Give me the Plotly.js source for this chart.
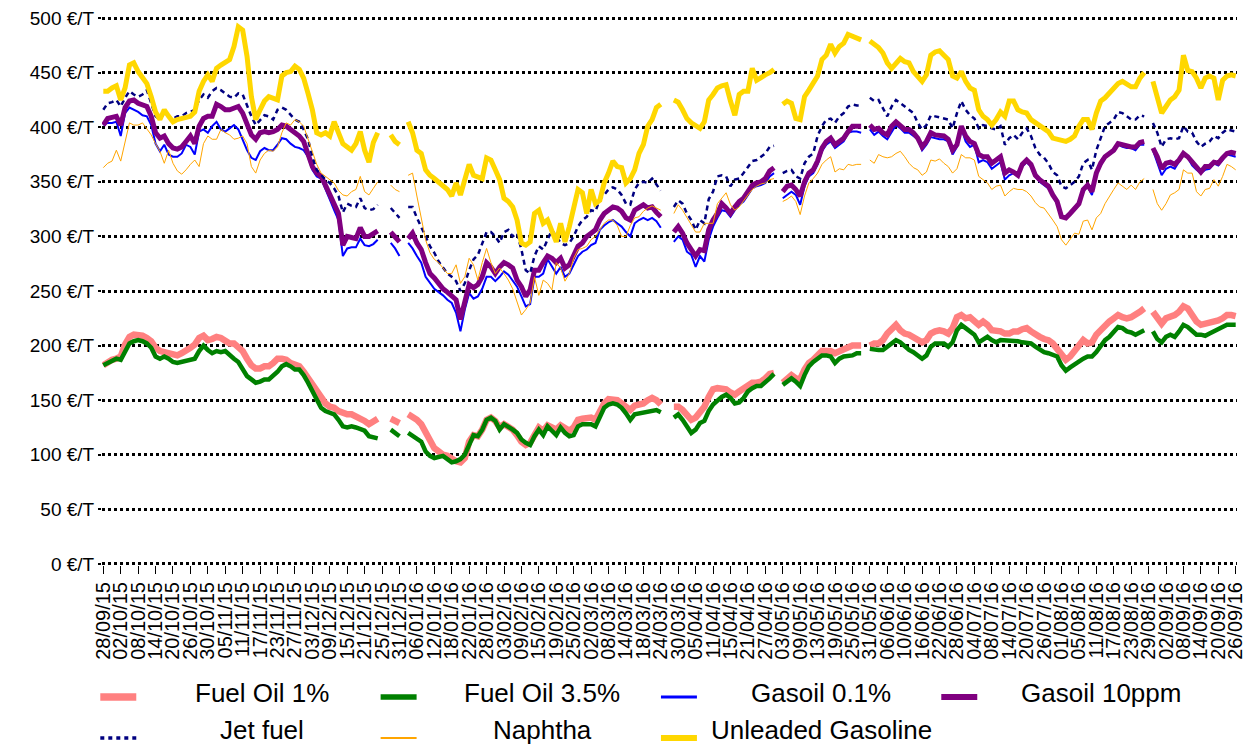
<!DOCTYPE html>
<html>
<head>
<meta charset="utf-8">
<script src="https://cdn.plot.ly/plotly-3.0.1.min.js"></script>
<style>
  html, body { margin: 0; padding: 0; background: #ffffff; }
  #chart { width: 1249px; height: 746px; }
</style>
</head>
<body>
<div id="chart"></div>
<script>
// ---------- categories: every weekday from 28/09/15 to 26/09/16 ----------
const dates = [];
(function () {
  let t = Date.UTC(2015, 8, 28);
  const end = Date.UTC(2016, 8, 26);
  while (t <= end) {
    const d = new Date(t);
    const wd = d.getUTCDay();
    if (wd !== 0 && wd !== 6) {
      const dd = String(d.getUTCDate()).padStart(2, '0');
      const mm = String(d.getUTCMonth() + 1).padStart(2, '0');
      const yy = String(d.getUTCFullYear()).slice(2);
      dates.push(dd + '/' + mm + '/' + yy);
    }
    t += 86400000;
  }
})();
const tickLabels = dates.filter((d, i) => i % 4 === 0);

// ---------- series values (€/T), null = no quotation ----------
const fuelOil1 = [
182,185,187,188,190,201,208,210,210,209,
207,204,198,195,194,193,191,191,193,195,
198,201,207,209,205,206,208,207,204,202,
202,199,195,188,182,179,179,181,181,184,
188,188,187,184,182,181,176,170,164,160,
152,147,144,143,140,138,137,137,135,134,
131,128,131,133,null,null,133,131,129,null,
137,135,132,128,120,112,106,103,100,99,
96,94,93,97,112,118,117,123,132,134,
131,125,128,126,123,118,112,109,111,118,
125,122,127,125,123,127,125,122,125,132,
133,133,134,132,141,147,151,150,150,147,
143,141,145,146,147,150,152,150,146,null,
null,144,144,141,137,132,134,138,144,153,
160,161,161,160,157,155,158,161,164,166,
166,167,170,174,175,null,166,169,173,170,
169,178,184,187,191,195,195,195,193,195,
196,198,200,200,200,null,200,202,202,205,
211,216,219,214,211,210,208,205,203,205,
211,213,214,213,211,216,226,228,225,226,
222,219,222,219,214,214,213,211,211,213,
213,215,216,213,210,208,206,205,202,197,
193,187,190,194,200,205,202,203,210,214,
219,222,225,228,226,225,226,228,231,234,
null,231,225,220,225,226,228,231,236,234,
228,222,219,220,220,222,223,225,228,228,
227];

const fuelOil35 = [
182,184,186,188,187,195,202,204,205,204,
202,198,190,188,190,188,185,184,185,187,
188,188,195,200,196,193,195,194,195,191,
188,185,179,172,169,166,167,169,169,172,
176,181,183,181,178,178,173,166,158,150,
143,140,139,137,132,126,125,126,125,124,
122,117,116,115,null,null,123,120,117,null,
120,117,115,112,103,99,97,98,99,96,
93,94,96,100,110,118,117,123,132,134,
131,123,128,126,123,120,114,111,109,117,
123,118,126,122,118,125,120,117,118,126,
128,128,128,126,135,143,146,147,146,143,
138,132,137,138,138,140,141,141,139,null,
null,134,137,132,125,120,123,129,131,140,
146,150,153,155,152,147,148,152,158,161,
163,163,166,170,174,null,164,167,170,167,
163,173,181,185,188,191,191,190,184,188,
190,190,191,193,193,null,197,196,196,196,
199,202,205,203,199,196,194,191,188,191,
199,202,202,202,199,203,214,219,216,213,
210,203,206,208,205,203,205,205,205,205,
204,203,202,202,199,196,194,193,192,190,
182,177,180,183,185,188,190,190,194,200,
205,208,213,217,216,213,212,210,212,214,
null,213,206,203,208,210,208,213,219,217,
213,210,210,209,211,213,214,217,219,219,
219];

const gasoil01 = [
402,404,404,405,392,413,418,416,414,411,
410,402,385,378,384,375,373,373,376,384,
382,375,396,398,395,401,405,398,396,399,
402,398,389,379,372,370,378,381,379,379,
384,390,389,385,382,381,379,373,361,355,
353,344,334,324,315,282,289,290,290,298,
292,291,293,297,null,null,294,289,282,null,
294,289,282,276,263,257,252,249,246,242,
239,230,213,233,248,243,245,252,263,263,
259,263,268,265,260,254,245,236,238,263,
263,266,279,272,266,272,263,266,274,282,
286,288,292,294,306,310,313,315,312,309,
304,300,312,315,317,315,317,314,308,null,
null,295,300,297,286,283,272,282,277,297,
309,317,324,323,318,324,329,332,338,344,
346,347,349,355,358,null,335,338,341,338,
329,346,355,358,366,378,384,387,381,384,
387,395,396,396,395,null,398,393,396,392,
389,396,402,399,395,395,392,389,379,384,
391,390,389,389,387,375,382,399,387,382,
384,368,370,368,362,365,368,352,356,358,
355,364,368,364,355,350,347,344,337,330,
318,317,321,324,329,341,346,338,356,365,
372,375,378,384,382,381,381,379,384,384,
null,379,368,356,362,364,362,368,375,372,
365,361,358,361,362,367,365,370,375,374,
373];

const gasoil10ppm = [
402,408,409,410,402,418,424,425,422,421,
419,410,395,390,392,385,381,380,382,387,
392,385,401,408,410,410,421,419,416,416,
418,419,413,404,393,389,395,396,395,396,
398,402,401,398,395,392,387,376,364,358,
355,347,339,330,321,292,300,299,298,308,
300,300,302,305,null,null,304,300,295,null,
298,303,294,288,276,266,262,257,252,249,
245,242,224,239,256,253,256,263,276,272,
266,272,276,274,271,260,254,245,251,269,
269,276,282,280,276,280,271,274,282,291,
294,300,303,306,315,321,324,327,326,323,
317,315,324,327,329,326,327,322,318,null,
null,304,309,303,294,288,282,288,287,306,
315,321,330,326,321,327,332,335,341,347,
349,350,353,360,363,null,341,346,347,343,
337,350,358,361,369,381,387,390,384,387,
390,396,401,401,401,null,402,398,399,395,
393,401,405,402,398,398,395,390,382,387,
395,393,392,392,389,379,384,401,392,387,
385,375,373,373,367,370,373,358,361,359,
356,366,370,366,356,352,349,346,338,332,
318,317,321,326,330,343,347,341,358,367,
373,376,379,385,384,382,382,382,386,387,
null,381,373,362,367,368,366,370,376,373,
368,364,359,364,364,368,367,372,376,377,
376];

const jetFuel = [
416,422,423,425,419,427,433,430,428,430,
434,421,410,407,413,410,408,410,410,413,
414,416,425,430,427,433,436,434,431,428,
427,431,430,419,410,402,407,411,410,407,
416,418,416,411,407,405,398,389,373,361,
356,352,349,344,337,322,330,328,327,335,
326,324,325,329,null,null,326,321,317,null,
327,327,317,309,300,291,285,277,272,266,
263,259,250,257,269,279,283,294,304,304,
300,294,304,306,300,303,288,269,266,282,
291,288,297,306,300,294,292,294,300,309,
315,318,324,323,334,338,343,345,343,338,
330,329,343,349,350,349,353,348,342,null,
null,327,333,330,321,315,306,315,312,334,
341,355,356,355,346,352,353,358,364,369,
370,373,376,382,383,null,358,360,361,355,
353,367,373,376,392,401,407,408,404,410,
413,419,421,420,420,null,427,424,425,418,
410,419,425,422,419,416,413,404,398,402,
411,410,409,408,407,399,413,424,416,411,
408,399,402,401,399,398,401,384,390,393,
389,395,399,392,381,375,372,367,359,356,
346,344,347,350,355,367,370,361,379,390,
401,404,407,414,413,410,407,407,411,410,
null,404,395,382,389,390,389,390,401,396,
395,387,382,385,387,392,390,395,398,397,
396];

const naphtha = [
363,367,369,379,369,387,404,402,402,404,
399,393,385,378,367,379,367,360,357,361,
366,370,364,385,392,389,389,398,395,393,
389,390,392,385,364,358,370,376,379,378,
382,395,404,402,407,405,401,389,379,366,
358,355,352,349,342,338,337,341,343,355,
341,338,344,350,null,null,347,343,341,null,
356,358,337,318,297,285,279,276,271,266,
266,274,257,263,280,274,260,276,289,276,
266,271,266,260,252,240,228,233,239,263,
246,260,257,251,276,271,259,266,280,288,
289,291,297,300,306,312,315,315,310,300,
300,310,317,318,323,326,328,326,324,null,
null,321,329,324,317,310,304,304,312,312,
312,330,335,340,329,324,327,333,338,343,
346,348,349,352,353,null,332,334,337,332,
320,337,349,353,358,366,370,373,359,362,
361,366,365,366,366,null,370,367,375,373,
372,373,376,378,373,367,363,361,356,359,
370,369,371,367,364,358,362,375,372,372,
370,355,352,349,343,346,347,337,341,344,
343,343,341,337,331,327,326,321,315,309,
297,292,297,303,302,314,315,306,317,321,
330,337,343,349,346,343,347,343,350,353,
null,343,330,324,330,338,340,343,361,358,
358,341,337,343,344,352,346,355,366,364,
361];

const unleadedGasoline = [
433,433,436,438,425,436,457,459,451,445,
440,428,414,407,416,410,405,407,408,408,
410,414,433,442,448,442,454,457,459,462,
474,492,489,465,428,407,416,424,428,427,
425,447,450,451,456,453,445,431,416,395,
393,395,392,405,395,385,382,379,385,396,
379,368,386,395,null,null,393,387,384,null,
405,395,379,376,361,356,353,350,347,343,
337,349,338,352,366,356,355,353,372,370,
361,352,335,332,327,315,294,292,295,321,
324,312,315,306,295,312,295,309,327,343,
340,321,343,330,333,349,358,369,364,363,
349,353,361,376,384,401,407,418,421,null,
null,425,423,416,408,404,401,399,405,425,
430,436,438,439,424,411,430,433,433,454,
443,446,448,450,453,null,421,424,422,408,
407,428,434,440,447,462,466,476,468,474,
477,485,483,482,480,null,479,476,473,468,
459,454,459,463,460,459,451,447,442,448,
466,469,470,466,462,447,445,451,442,436,
434,416,410,407,402,407,414,410,424,424,
416,414,413,407,404,401,399,396,390,389,
387,387,389,392,401,407,407,398,413,424,
427,431,436,440,442,439,437,437,445,450,
null,442,427,413,419,425,428,434,466,452,
451,445,436,445,447,445,425,443,447,448,
447];

const seriesNames = ['Fuel Oil 1%', 'Fuel Oil 3.5%', 'Gasoil 0.1%', 'Gasoil 10ppm',
                     'Jet fuel', 'Naphtha', 'Unleaded Gasoline'];
const seriesValues = [fuelOil1, fuelOil35, gasoil01, gasoil10ppm, jetFuel, naphtha, unleadedGasoline];

// ---------- styles ----------
const styles = [
  {color: '#FF8080', width: 6.5, dash: 'solid'},
  {color: '#008000', width: 4.5, dash: 'solid'},
  {color: '#0000FF', width: 2,   dash: 'solid'},
  {color: '#800080', width: 5,   dash: 'solid'},
  {color: '#000080', width: 2.5, dash: '5px,4px'},
  {color: '#FFA500', width: 1,   dash: 'solid'},
  {color: '#FFD700', width: 5,   dash: 'solid'}
];

const FONT = 'Liberation Sans, Arial, Helvetica, sans-serif';

const traces = seriesValues.map((vals, k) => ({
  type: 'scatter',
  mode: 'lines',
  name: seriesNames[k],
  x: dates,
  y: vals,
  connectgaps: false,
  line: {color: styles[k].color, width: styles[k].width, dash: styles[k].dash},
  hoverinfo: 'x+y+name',
  showlegend: false
}));

// ---------- geometry ----------
const W = 1249, H = 746;
// axis ranges padded slightly so the edge grid lines (500 €/T and the left
// dotted axis line) are drawn inside the plotting area
const X_RANGE = [-0.3, 260.3];
const Y_RANGE = [-1, 501];
const M = {l: 101.7, r: 11.6, t: 17, b: 181};
const plotW = W - M.l - M.r, plotH = H - M.t - M.b;
const px2x = p => (p - M.l) / plotW;
const py2y = p => (H - M.b - p) / plotH;

// ---------- custom legend (4 columns x 2 rows, centred text) ----------
const colSymbolX = [100, 380.5, 661, 941.5];
const colTextX = [262, 542, 821.5, 1101];
const rowSymbolY = [697, 738];
const rowTextY = [692.5, 729.5];

const shapes = [];
const annotations = [];
seriesNames.forEach((name, k) => {
  const r = Math.floor(k / 4), c = k % 4;
  shapes.push({
    type: 'line', xref: 'paper', yref: 'paper',
    x0: px2x(colSymbolX[c]), x1: px2x(colSymbolX[c] + 36),
    y0: py2y(rowSymbolY[r]), y1: py2y(rowSymbolY[r]),
    line: {color: styles[k].color, width: Math.min(styles[k].width + 1, 7.5),
           dash: k === 4 ? '4px,4px' : 'solid'}
  });
  annotations.push({
    xref: 'paper', yref: 'paper',
    x: px2x(colTextX[c]), y: py2y(rowTextY[r]),
    xanchor: 'center', yanchor: 'middle',
    text: name, showarrow: false,
    font: {family: FONT, size: 26, color: '#000000'}
  });
});

const layout = {
  width: W, height: H,
  margin: M,
  paper_bgcolor: '#ffffff',
  plot_bgcolor: '#ffffff',
  font: {family: FONT, size: 20, color: '#000000'},
  showlegend: false,
  xaxis: {
    type: 'category',
    categoryorder: 'array',
    categoryarray: dates,
    range: X_RANGE,
    autorange: false,
    tickmode: 'array',
    tickvals: tickLabels,
    ticktext: tickLabels,
    tickangle: -90,
    ticks: 'outside', ticklen: 8, tickwidth: 1, tickcolor: '#000000',
    tickfont: {family: FONT, size: 20, color: '#000000'},
    showgrid: false, zeroline: false, showline: false,
    fixedrange: true
  },
  xaxis2: {
    type: 'linear', overlaying: 'x', anchor: 'y', side: 'bottom',
    range: X_RANGE, autorange: false,
    tickmode: 'linear', tick0: 0, dtick: 1,
    ticks: 'outside', ticklen: 8, tickwidth: 1, tickcolor: '#000000',
    showticklabels: false, showgrid: false, zeroline: false, showline: false,
    fixedrange: true
  },
  xaxis3: {
    type: 'linear', overlaying: 'x', anchor: 'y', side: 'bottom',
    range: X_RANGE, autorange: false,
    tickmode: 'array', tickvals: [0],
    ticks: '', showticklabels: false,
    showgrid: true, gridcolor: '#000000', gridwidth: 2.5, griddash: '3px,3px',
    zeroline: false, showline: false, fixedrange: true
  },
  yaxis: {
    range: Y_RANGE, autorange: false,
    tickmode: 'linear', tick0: 0, dtick: 50,
    ticksuffix: ' €/T',
    ticks: 'outside', ticklen: 3, tickwidth: 2, tickcolor: '#000000',
    tickfont: {family: FONT, size: 19, color: '#000000'},
    showgrid: true, gridcolor: '#000000', gridwidth: 2.5, griddash: '3px,3px',
    zeroline: false, showline: false, fixedrange: true
  },
  shapes: shapes,
  annotations: annotations
};

Plotly.newPlot('chart', traces, layout, {displayModeBar: false, responsive: false});
</script>
</body>
</html>
